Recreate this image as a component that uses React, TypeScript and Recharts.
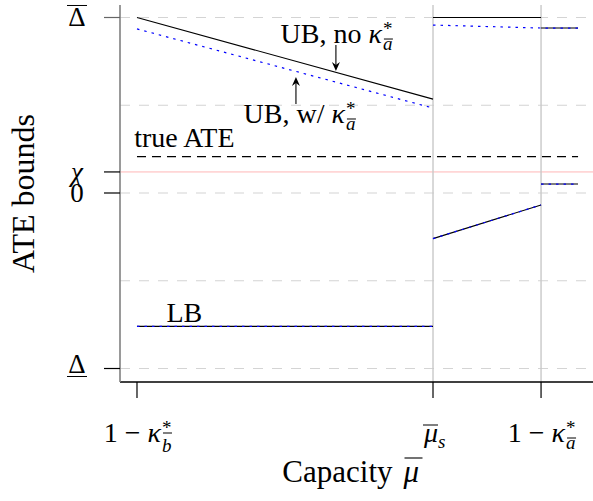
import { LineChart, Line, XAxis, YAxis, ReferenceLine, ReferenceDot, Label } from "recharts";

const FONT = "'Liberation Serif', 'DejaVu Serif', serif";

// x axis: 1 - kappa_b*, mu_s, 1 - kappa_a*, and where the curves stop
const xTicks = [0, 1, 1.365];
const xTickSubs = ["b", "s", "a"];
const xEnd = 1.49;

// y axis: Delta (lower), 0, chi, Delta (upper)
const yTicks = [-1, 0, 0.12, 1];
const gridY = [-1, -0.5, 0, 0.5, 1];
const chi = 0.12;
const trueAte = 0.207;

// upper bound without kappa_a* (black, solid)
const ubNo = [
  { x: 0, y: 1 },
  { x: 1, y: 0.535 },
  { x: 1, y: null },
  { x: 1, y: 1 },
  { x: 1.365, y: 1 },
  { x: 1.365, y: null },
  { x: 1.365, y: 0.94 },
  { x: xEnd, y: 0.94 },
];

// upper bound with kappa_a* (blue, dotted)
const ubWith = [
  { x: 0, y: 0.935 },
  { x: 1, y: 0.484 },
  { x: 1, y: null },
  { x: 1, y: 0.957 },
  { x: 1.365, y: 0.94 },
  { x: xEnd, y: 0.94 },
];

// lower bound (same with and without)
const lb = [
  { x: 0, y: -0.76 },
  { x: 1, y: -0.76 },
  { x: 1, y: null },
  { x: 1, y: -0.26 },
  { x: 1.365, y: -0.068 },
  { x: 1.365, y: null },
  { x: 1.365, y: 0.051 },
  { x: xEnd, y: 0.051 },
];

const ate = [
  { x: 0, y: trueAte },
  { x: xEnd, y: trueAte },
];

// arrow annotations: tip position on the curve, direction the arrow points
const notes = [
  { x: 0.672, y: 0.695, dir: "down", text: "UB, no " },
  { x: 0.537, y: 0.661, dir: "up", text: "UB, w/ " },
];

const labelX = 0.16;

// "prefix κ*_sub" with the main part ending at x, baseline y
function KappaStar({ x, y, prefix, sub, size = 28 }: any) {
  const tall = sub === "b";
  const subY = tall ? y + 10 : y + 7;
  const barY = tall ? y - 9 : y - 4;
  return (
    <g fontFamily={FONT} fill="#000">
      <text x={x} y={y} textAnchor="end" fontSize={size}>
        {prefix}
        <tspan fontStyle="italic">κ</tspan>
      </text>
      <text x={x + 1} y={y - 8} fontSize={19}>*</text>
      <text x={x + 1} y={subY} fontSize={19} fontStyle="italic">{sub}</text>
      <line x1={x + 2} x2={x + 11} y1={barY} y2={barY} stroke="#000" strokeWidth={1} />
    </g>
  );
}

function XTick(props: any) {
  const { x, y, payload } = props;
  const i = xTicks.indexOf(payload.value);
  const base = y + 60;
  return (
    <g>
      <line x1={x} y1={y} x2={x} y2={y + 16} stroke="#000" strokeWidth={1.2} />
      {xTickSubs[i] === "s" ? (
        <g fontFamily={FONT} fill="#000">
          <text x={x + 5} y={base} textAnchor="end" fontSize={28} fontStyle="italic">μ</text>
          <text x={x + 5} y={base + 6} fontSize={19} fontStyle="italic">s</text>
          <line x1={x - 10} x2={x + 5} y1={base - 17} y2={base - 17} stroke="#000" strokeWidth={1} />
        </g>
      ) : (
        <KappaStar x={x + 24} y={base} prefix="1 − " sub={xTickSubs[i]} />
      )}
    </g>
  );
}

function YTick(props: any) {
  const { x, y, payload } = props;
  const v = payload.value;
  const cx = x - 43;
  let body: any = null;
  if (v === 1) {
    body = (
      <>
        <text x={cx} y={y + 9} textAnchor="middle">Δ</text>
        <line x1={cx - 10} x2={cx + 10} y1={y - 12} y2={y - 12} stroke="#000" strokeWidth={1} />
      </>
    );
  } else if (v === -1) {
    body = (
      <>
        <text x={cx} y={y + 4} textAnchor="middle">Δ</text>
        <line x1={cx - 10} x2={cx + 10} y1={y + 8} y2={y + 8} stroke="#000" strokeWidth={1} />
      </>
    );
  } else if (v === chi) {
    body = <text x={cx} y={y + 9} textAnchor="middle" fontStyle="italic">χ</text>;
  } else {
    body = <text x={cx} y={y + 9} textAnchor="middle">0</text>;
  }
  return (
    <g>
      <line x1={x - 16} y1={y} x2={x} y2={y} stroke={v === 1 ? "#666" : "#000"} strokeWidth={1.2} />
      <g fontFamily={FONT} fontSize={27} fill="#000">{body}</g>
    </g>
  );
}

function NoteShape(props: any) {
  const { cx, cy, note } = props;
  const down = note.dir === "down";
  const tail = down ? cy - 26 : cy + 27;
  const s = down ? -1 : 1;
  const head = `M${cx},${cy} L${cx - 4},${cy + s * 9} L${cx},${cy + s * 6} L${cx + 4},${cy + s * 9} Z`;
  return (
    <g>
      <line x1={cx} y1={tail} x2={cx} y2={cy + s * 6} stroke="#000" strokeWidth={1.1} />
      <path d={head} fill="#000" />
      <KappaStar x={cx + (down ? 46 : 49)} y={down ? tail - 2 : tail + 19} prefix={note.text} sub="a" />
    </g>
  );
}

function TextAt(props: any) {
  const { cx, cy, text, dy } = props;
  return (
    <text x={cx} y={cy + dy} textAnchor="middle" fontFamily={FONT} fontSize={28} fill="#000">
      {text}
    </text>
  );
}

export default function App() {
  return (
    <div style={{ position: "absolute", left: 0, top: 0, width: 593, height: 501, background: "#fff" }}>
      <LineChart width={593} height={501} margin={{ top: 5, right: 0, bottom: 0, left: 0 }}>
        <XAxis
          type="number"
          dataKey="x"
          domain={[-0.0574, 1.5405]}
          ticks={xTicks}
          interval={0}
          allowDataOverflow
          height={119}
          tickSize={0}
          tickMargin={0}
          tickLine={false}
          tick={<XTick />}
          axisLine={{ stroke: "#000", strokeWidth: 1.3 }}
        >
          <Label
            content={(p: any) => {
              const vb = p.viewBox;
              const cx = vb.x + vb.width / 2;
              const base = vb.y + 100;
              return (
                <g fontFamily={FONT} fontSize={31} fill="#000">
                  <text x={cx + 36} y={base} textAnchor="end">Capacity</text>
                  <text x={cx + 47} y={base} fontStyle="italic">μ</text>
                  <line x1={cx + 48} x2={cx + 66} y1={base - 24} y2={base - 24} stroke="#000" strokeWidth={1.1} />
                </g>
              );
            }}
          />
        </XAxis>
        <YAxis
          type="number"
          domain={[-1.0769, 1.0712]}
          ticks={yTicks}
          interval={0}
          allowDataOverflow
          width={120}
          tickSize={0}
          tickMargin={0}
          tickLine={false}
          tick={<YTick />}
          axisLine={{ stroke: "#808080", strokeWidth: 1.6 }}
        >
          <Label
            content={(p: any) => {
              const vb = p.viewBox;
              const cy = vb.y + vb.height / 2;
              return (
                <text x={34} y={cy} transform={`rotate(-90 34 ${cy})`} textAnchor="middle" fontFamily={FONT} fontSize={32} fill="#000">
                  ATE bounds
                </text>
              );
            }}
          />
        </YAxis>

        {gridY.map((g) => (
          <ReferenceLine key={g} y={g} stroke="#d4d4d4" strokeWidth={1.1} strokeDasharray="10 9" />
        ))}
        <ReferenceLine y={chi} stroke="#ffb6b6" strokeWidth={1} />
        {xTicks.slice(1).map((t) => (
          <ReferenceLine key={t} x={t} stroke="#c8c8c8" strokeWidth={1.4} />
        ))}

        <Line data={ate} dataKey="y" stroke="#000" strokeWidth={1.3} strokeDasharray="9 6" dot={false} activeDot={false} isAnimationActive={false} />
        <Line data={ubNo} dataKey="y" stroke="#000" strokeWidth={1.1} dot={false} activeDot={false} isAnimationActive={false} />
        <Line data={lb} dataKey="y" stroke="#000" strokeWidth={1.1} dot={false} activeDot={false} isAnimationActive={false} />
        <Line data={ubWith} dataKey="y" stroke="#0000ff" strokeWidth={1.2} strokeDasharray="2.5 5" dot={false} activeDot={false} isAnimationActive={false} />
        <Line data={lb} dataKey="y" stroke="#0000ff" strokeWidth={1.2} strokeDasharray="2.5 5" dot={false} activeDot={false} isAnimationActive={false} />

        {notes.map((n) => (
          <ReferenceDot key={n.text} x={n.x} y={n.y} r={0} shape={(p: any) => <NoteShape {...p} note={n} />} />
        ))}
        <ReferenceDot x={labelX} y={trueAte} r={0} shape={(p: any) => <TextAt {...p} text="true ATE" dy={-10} />} />
        <ReferenceDot x={labelX} y={lb[0].y} r={0} shape={(p: any) => <TextAt {...p} text="LB" dy={-4} />} />
      </LineChart>
    </div>
  );
}
